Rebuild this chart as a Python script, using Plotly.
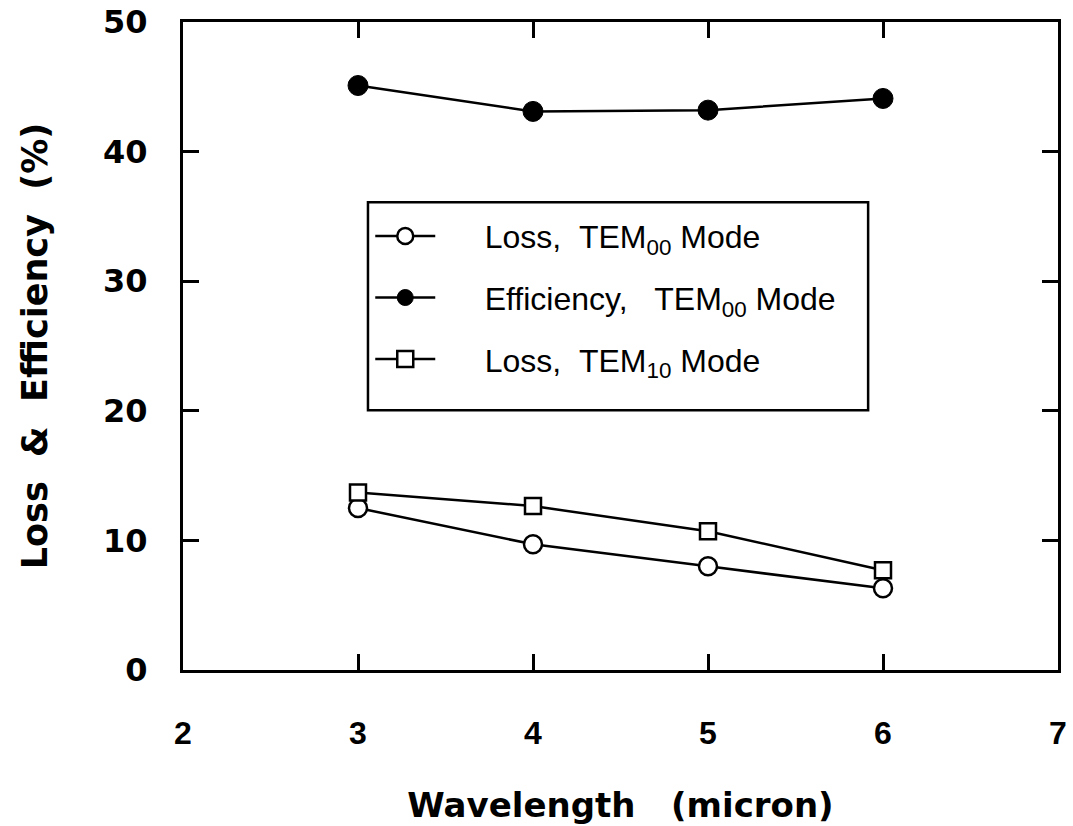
import plotly.graph_objects as go

wavelength = [3, 4, 5, 6]
efficiency_tem00 = [45.1, 43.1, 43.2, 44.1]
loss_tem00 = [12.5, 9.7, 8.0, 6.3]
loss_tem10 = [13.7, 12.65, 10.7, 7.7]

x_ticks = [2, 3, 4, 5, 6, 7]
y_ticks = [0, 10, 20, 30, 40, 50]

NB = "\u00a0"
PAD = NB * 5

fig = go.Figure()
fig.add_trace(go.Scatter(
    x=wavelength, y=loss_tem00, mode="lines+markers",
    name=PAD + "Loss," + NB + NB + "TEM<sub>00</sub> Mode", legendgroup="a",
    line=dict(color="black", width=2.5),
    marker=dict(symbol="circle", size=18, color="white", line=dict(color="black", width=2.5)),
))
fig.add_trace(go.Scatter(
    x=wavelength, y=efficiency_tem00, mode="lines+markers",
    name=PAD + "Efficiency," + NB + NB + NB + "TEM<sub>00</sub> Mode", legendgroup="b",
    line=dict(color="black", width=2.5),
    marker=dict(symbol="circle", size=20, color="black", line=dict(color="black", width=1)),
))
fig.add_trace(go.Scatter(
    x=wavelength, y=loss_tem10, mode="lines+markers",
    name=PAD + "Loss," + NB + NB + "TEM<sub>10</sub> Mode", legendgroup="c",
    line=dict(color="black", width=2.5),
    marker=dict(symbol="square", size=16, color="white", line=dict(color="black", width=2.5)),
))

# legend frame (paper coordinates)
fig.add_shape(type="rect", xref="paper", yref="paper",
              x0=0.2114, x1=0.783, y0=0.401, y1=0.722,
              line=dict(color="black", width=2.5), fillcolor="rgba(0,0,0,0)", layer="above")

fig.update_layout(
    width=1073, height=826,
    margin=dict(l=183, r=15, t=22, b=156, autoexpand=False),
    paper_bgcolor="white", plot_bgcolor="white",
    showlegend=True,
    legend=dict(
        x=0.214, y=0.712, xanchor="left", yanchor="top",
        borderwidth=0, bgcolor="rgba(0,0,0,0)",
        font=dict(family="Liberation Sans, Arial, sans-serif", size=32, color="black"),
        tracegroupgap=17, itemwidth=60,
    ),
)
fig.update_xaxes(
    range=[2, 7], tickvals=x_ticks, ticktext=[str(v) for v in x_ticks],
    ticks="inside", ticklen=16, tickwidth=2.5, tickcolor="black",
    showline=True, linecolor="black", linewidth=3, mirror="allticks",
    showgrid=False, zeroline=False, automargin=False, ticklabeloverflow="allow",
    tickfont=dict(family="Liberation Sans, Arial, sans-serif", size=32, color="black", weight="bold"),
    ticklabelstandoff=33,
    title=dict(text="Wavelength \u00a0 (micron)", standoff=43,
               font=dict(family="DejaVu Sans, sans-serif", size=34, color="black", weight="bold")),
)
fig.update_yaxes(
    range=[0, 50], tickvals=y_ticks, ticktext=[str(v) for v in y_ticks],
    ticks="inside", ticklen=16, tickwidth=2.5, tickcolor="black",
    showline=True, linecolor="black", linewidth=3, mirror="allticks",
    showgrid=False, zeroline=False, automargin=False, ticklabeloverflow="allow",
    tickfont=dict(family="DejaVu Sans, sans-serif", size=32, color="black", weight="bold"),
    ticklabelstandoff=26,
    title=dict(text="Loss \u00a0& \u00a0Efficiency \u00a0(%)", standoff=45,
               font=dict(family="DejaVu Sans, sans-serif", size=35, color="black", weight="bold")),
)

fig.write_html("out.html", config={"displayModeBar": False},
               post_script="document.body.style.margin='0';document.body.style.padding='0';")
